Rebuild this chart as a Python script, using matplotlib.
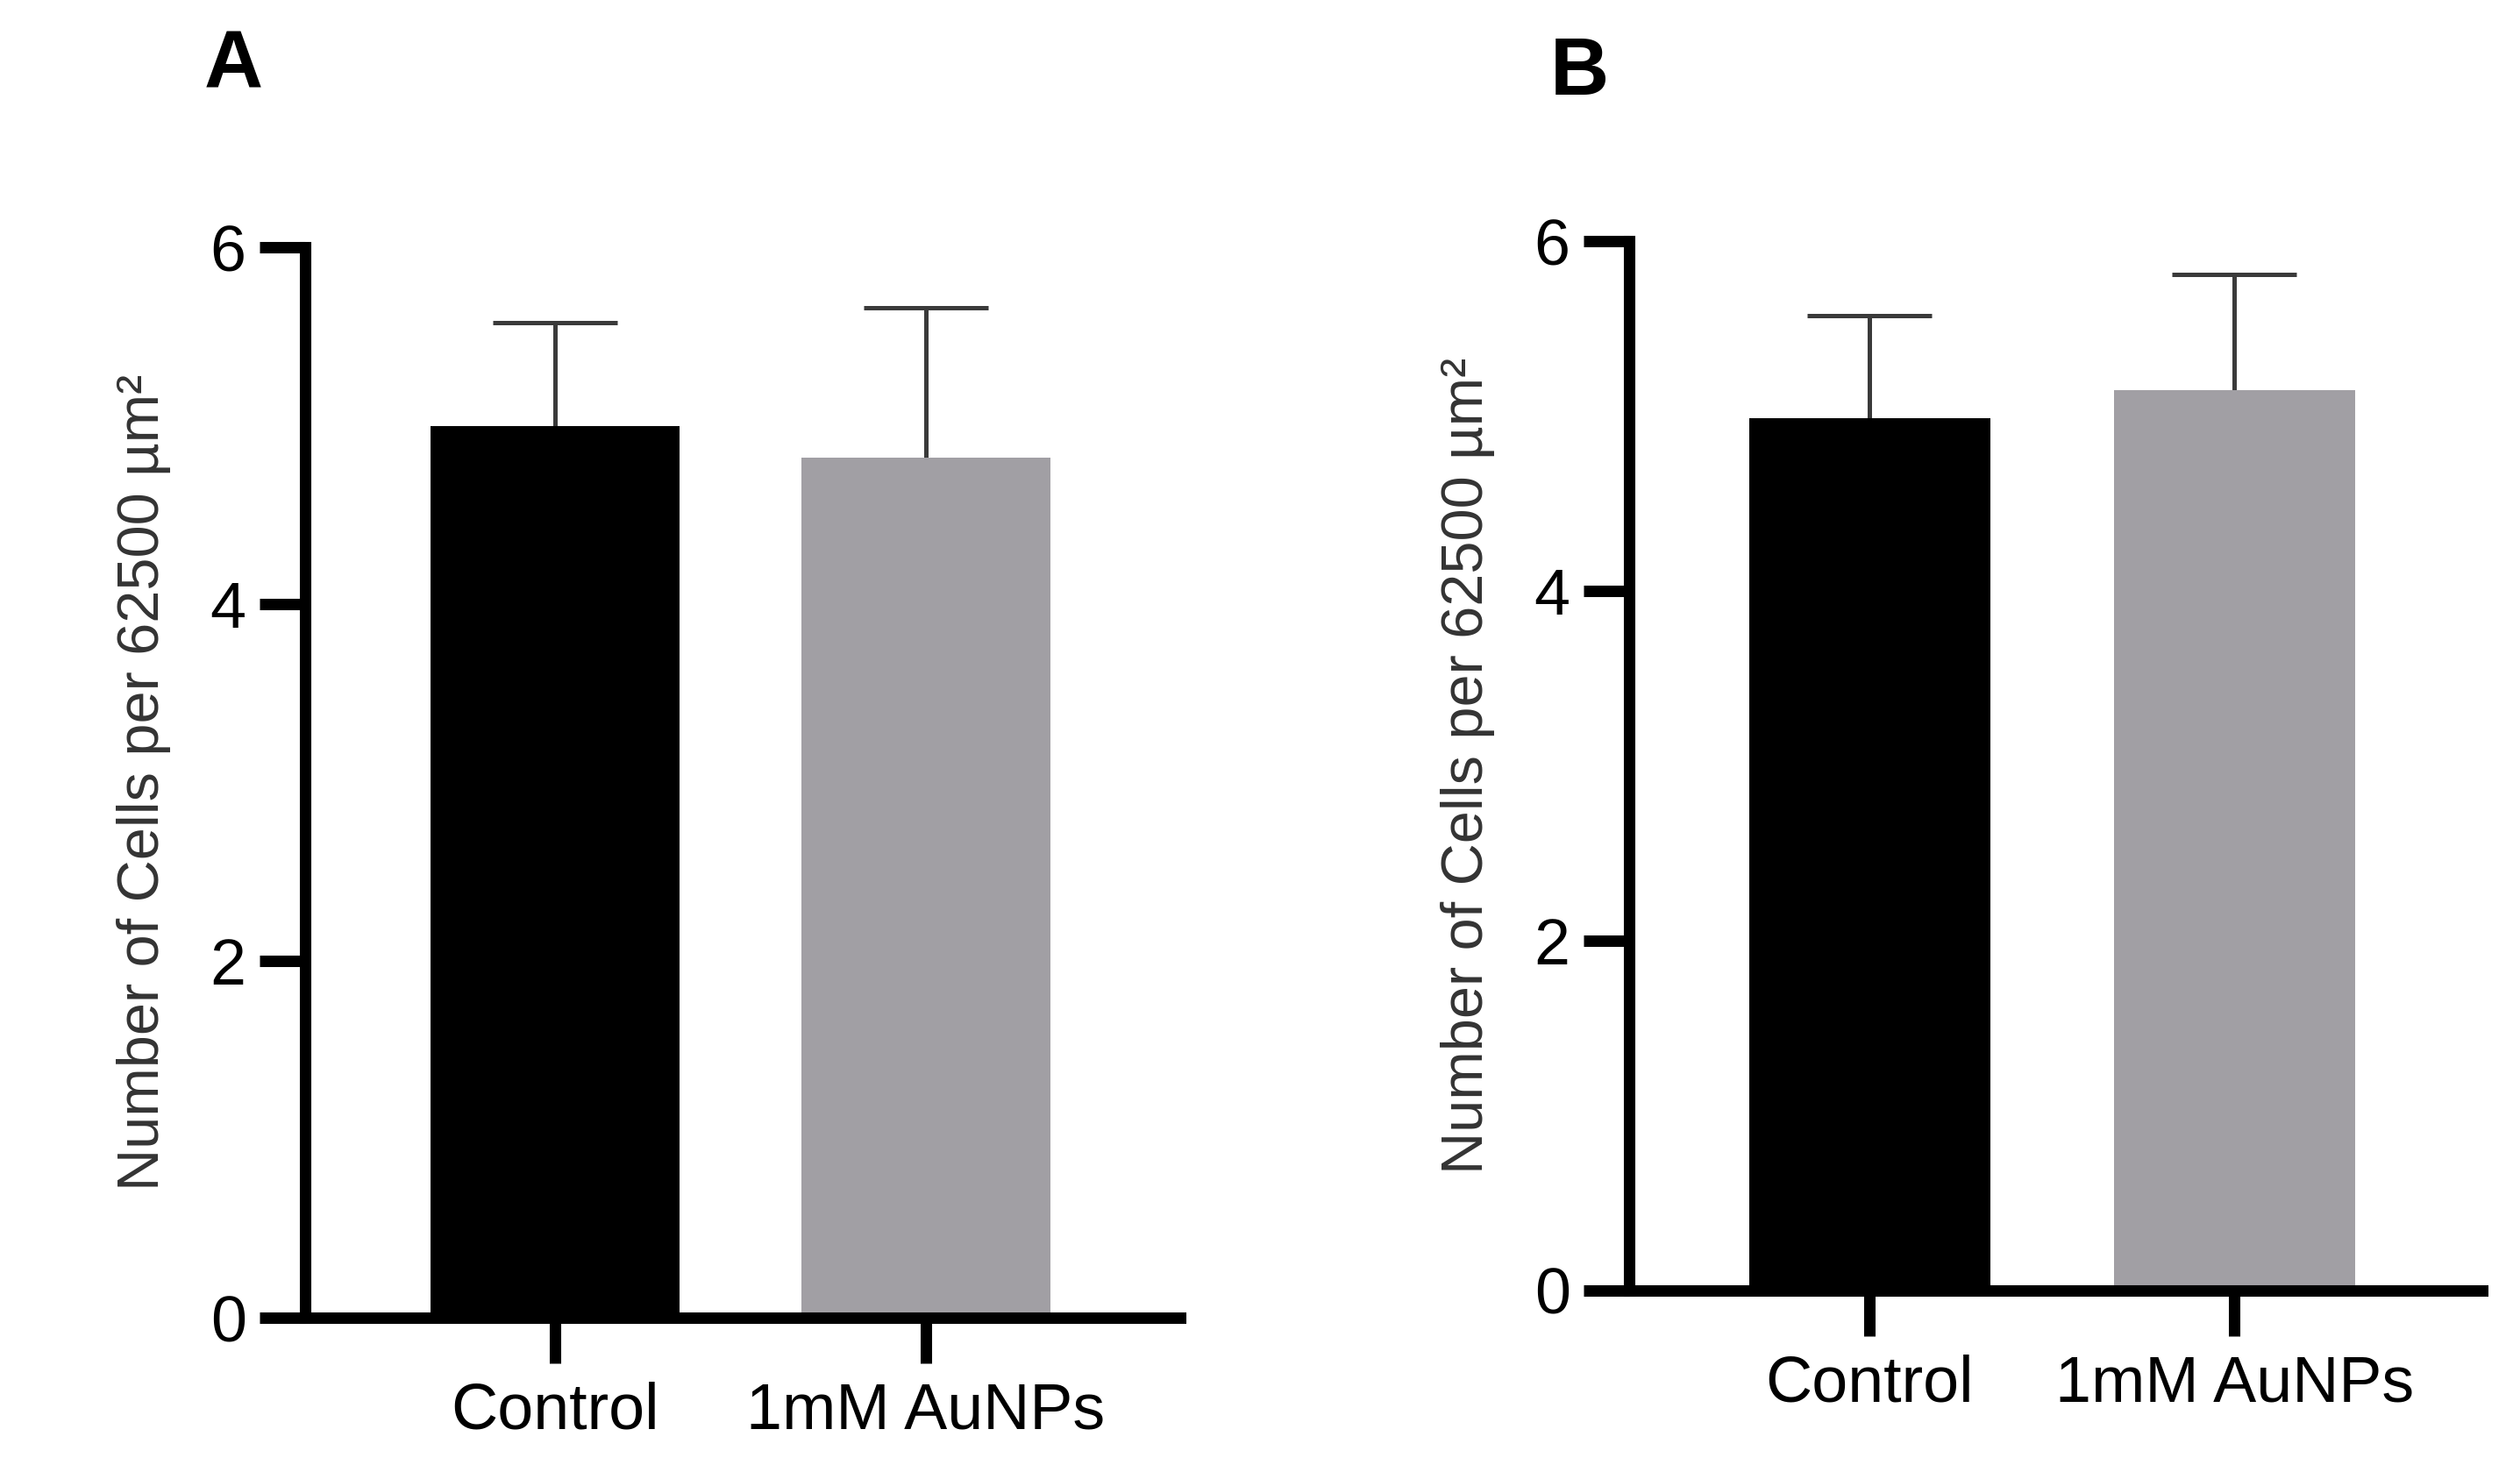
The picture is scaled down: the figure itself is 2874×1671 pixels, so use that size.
import matplotlib
matplotlib.use('agg')
import matplotlib.pyplot as plt

# values
groups = ['Control', '1mM AuNPs']
bar_colors = ['#000000', '#a19fa4']

means_a = [5.00, 4.82]
sem_a = [0.58, 0.84]

means_b = [4.99, 5.15]
sem_b = [0.585, 0.66]

y_ticks = [0, 2, 4, 6]
y_label = 'Number of Cells per 62500 \u00b5m\u00b2'

plt.rcParams['font.family'] = ['Liberation Sans', 'DejaVu Sans']

fig = plt.figure(figsize=(28.74, 16.71), dpi=100)


def draw_panel(ax, means, errs, xlim, width):
    x = list(range(len(means)))
    ax.bar(x, means, width=width, color=bar_colors, zorder=2)
    _, caps, _ = ax.errorbar(x, means, yerr=[[0] * len(errs), errs], fmt='none',
                             ecolor='#3a3a3a', elinewidth=3.6, capsize=51,
                             capthick=3.6, zorder=1)
    # only the upper cap is drawn in the original
    caps[0].remove()
    ax.set_xlim(*xlim)
    ax.set_ylim(0, 6)
    ax.set_yticks(y_ticks)
    ax.set_xticks(x)
    ax.set_xticklabels(groups)
    for side in ['top', 'right']:
        ax.spines[side].set_visible(False)
    for side in ['left', 'bottom']:
        ax.spines[side].set_linewidth(9.4)
        ax.spines[side].set_capstyle('projecting')
    ax.tick_params(axis='both', length=37.5, width=9.4, labelsize=53, colors='black')
    ax.tick_params(axis='y', pad=11)
    ax.tick_params(axis='x', pad=15)
    ax.set_ylabel(y_label, fontsize=48, color='#333333', labelpad=32)


ax_a = fig.add_axes([0.1211, 0.1005, 0.3473, 0.7307])
draw_panel(ax_a, means_a, sem_a, (-0.674, 1.686), 0.67)

ax_b = fig.add_axes([0.6465, 0.1191, 0.3386, 0.7163])
draw_panel(ax_b, means_b, sem_b, (-0.659, 1.68), 0.66)

fig.text(233 / 2874, 1 - 100 / 1671, 'A', fontsize=67, fontweight='bold', va='baseline')
fig.text(1768 / 2874, 1 - 108 / 1671, 'B', fontsize=67, fontweight='bold', va='baseline')

plt.savefig('out.png', dpi=100)
